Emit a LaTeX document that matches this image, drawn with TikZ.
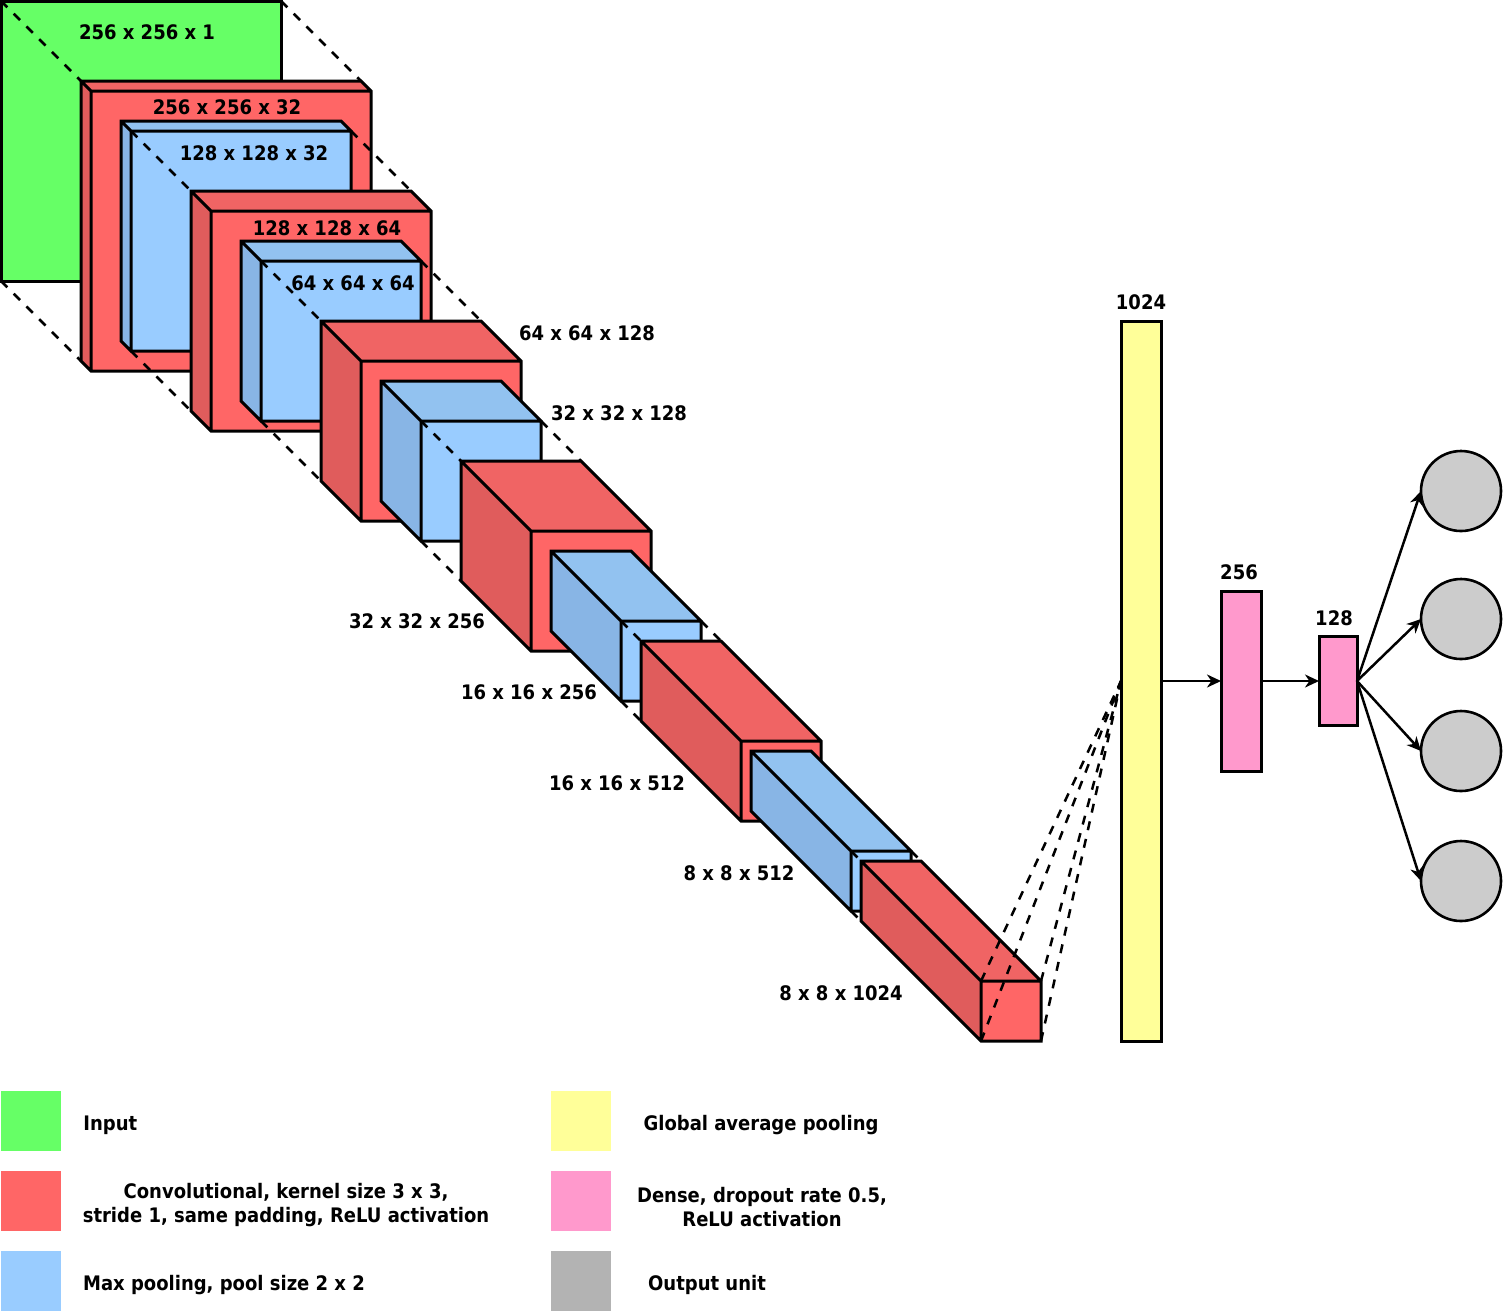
\documentclass[tikz,border=0pt]{standalone}
\usepackage{fontspec}
\setmainfont{DejaVu Sans}[FakeStretch=0.9]
\usetikzlibrary{arrows.meta}

\definecolor{inputgreen}{HTML}{66FF66}
\definecolor{convfront}{HTML}{FF6666}
\definecolor{convtop}{HTML}{F06464}
\definecolor{convside}{HTML}{E05C5C}
\definecolor{poolfront}{HTML}{99CCFF}
\definecolor{pooltop}{HTML}{92C2F0}
\definecolor{poolside}{HTML}{88B5E5}
\definecolor{gapyellow}{HTML}{FFFF99}
\definecolor{densepink}{HTML}{FF99CC}
\definecolor{outgray}{HTML}{CCCCCC}
\definecolor{keygray}{HTML}{B3B3B3}

% corner points of a cuboid: name, x, y (back top-left), size, depth
\newcommand\cubepts[5]{%
  \coordinate (#1-btl) at (#2,#3);
  \coordinate (#1-btr) at (#2+#4,#3);
  \coordinate (#1-bbl) at (#2,#3+#4);
  \coordinate (#1-ftl) at (#2+#5,#3+#5);
  \coordinate (#1-ftr) at (#2+#5+#4,#3+#5);
  \coordinate (#1-fbl) at (#2+#5,#3+#5+#4);
  \coordinate (#1-fbr) at (#2+#5+#4,#3+#5+#4);
}
% faces and edges of a cuboid: name, front, top, side colours
\newcommand\cubedraw[4]{%
  \fill[#4] (#1-btl)--(#1-ftl)--(#1-fbl)--(#1-bbl)--cycle;
  \fill[#3] (#1-btl)--(#1-btr)--(#1-ftr)--(#1-ftl)--cycle;
  \fill[#2] (#1-ftl) rectangle (#1-fbr);
  \draw[edge] (#1-btl)--(#1-btr)--(#1-ftr)--(#1-fbr)--(#1-fbl)--(#1-bbl)--cycle
    (#1-btl)--(#1-ftl)--(#1-ftr) (#1-ftl)--(#1-fbl);
}
% dashed projection lines from the front face of one block to the back face of the next
\newcommand\project[2]{%
  \draw[proj] (#1-ftl)--(#2-btl);
  \draw[proj] (#1-ftr)--(#2-btr);
  \draw[proj] (#1-fbl)--(#2-bbl);
  \draw[proj] (#1-fbr)--(#2-bbl-|#2-btr);
}

\begin{document}
\begin{tikzpicture}[x=0.5pt,y=-0.5pt,
  edge/.style={line width=1.5pt,line join=miter},
  proj/.style={line width=1.25pt,dash pattern=on 4.5pt off 4.5pt},
  lbl/.style={font=\fontsize{10}{12}\selectfont\bfseries,inner sep=0pt,text depth=0pt,align=center},
  bar/.style={draw,line width=1.5pt,inner sep=0pt,outer sep=0pt},
  unit/.style={circle,draw,line width=1.3pt,fill=outgray,minimum size=40pt,inner sep=0pt,outer sep=0pt},
  link/.style={line width=1.25pt,-{Stealth[length=7pt,width=6.5pt,inset=2.2pt]}},
  key/.style={minimum size=30pt,inner sep=0pt,anchor=north west}]

\useasboundingbox (0,0) rectangle (1504,1313);

% block geometry
\cubepts{c1}{81}{81}{280}{10}
\cubepts{p1}{121}{121}{220}{10}
\cubepts{c2}{191}{191}{220}{20}
\cubepts{p2}{241}{241}{160}{20}
\cubepts{c3}{321}{321}{160}{40}
\cubepts{p3}{381}{381}{120}{40}
\cubepts{c4}{461}{461}{120}{70}
\cubepts{p4}{551}{551}{80}{70}
\cubepts{c5}{641}{641}{80}{100}
\cubepts{p5}{751}{751}{60}{100}
\cubepts{c6}{861}{861}{60}{120}

% input image
\node[bar,fill=inputgreen,minimum size=140pt,anchor=north west] (input) at (1,1) {};
\draw[proj] (input.north west)--(c1-btl);
\draw[proj] (input.north east)--(c1-btr);
\draw[proj] (input.south west)--(c1-bbl);

% convolution / pooling stack
\cubedraw{c1}{convfront}{convtop}{convside}
\cubedraw{p1}{poolfront}{pooltop}{poolside}
\project{p1}{c2}
\cubedraw{c2}{convfront}{convtop}{convside}
\cubedraw{p2}{poolfront}{pooltop}{poolside}
\project{p2}{c3}
\cubedraw{c3}{convfront}{convtop}{convside}
\cubedraw{p3}{poolfront}{pooltop}{poolside}
\project{p3}{c4}
\cubedraw{c4}{convfront}{convtop}{convside}
\cubedraw{p4}{poolfront}{pooltop}{poolside}
\project{p4}{c5}
\cubedraw{c5}{convfront}{convtop}{convside}
\cubedraw{p5}{poolfront}{pooltop}{poolside}
\project{p5}{c6}
\cubedraw{c6}{convfront}{convtop}{convside}

% dense part
\node[bar,fill=gapyellow,minimum width=20pt,minimum height=360pt] (gap) at (1141,681) {};
\node[bar,fill=densepink,minimum width=20pt,minimum height=90pt] (d256) at (1241,681) {};
\node[bar,fill=densepink,minimum width=19pt,minimum height=44.5pt] (d128) at (1338,681) {};
\node[unit] (o1) at (1461,491) {};
\node[unit] (o2) at (1461,619) {};
\node[unit] (o3) at (1461,751) {};
\node[unit] (o4) at (1461,881) {};

\draw[proj] (c6-ftl)--(gap.west);
\draw[proj] (c6-ftr)--(gap.west);
\draw[proj] (c6-fbl)--(gap.west);
\draw[proj] (c6-fbr)--(gap.west);

\draw[link] (gap.east)--(d256.west);
\draw[link] (d256.east)--(d128.west);
\foreach \o in {o1,o2,o3,o4}
  \draw[link] (d128.east)--(\o.west);

% shape labels
\node[lbl] (l1) at (147,32) {256 x 256 x 1};
\node[lbl] (l2) at (227,107) {256 x 256 x 32};
\node[lbl] (l3) at (254,153) {128 x 128 x 32};
\node[lbl] (l4) at (327,228) {128 x 128 x 64};
\node[lbl] (l5) at (353,283) {64 x 64 x 64};
\node[lbl] (l6) at (587,333) {64 x 64 x 128};
\node[lbl] (l7) at (619,413) {32 x 32 x 128};
\node[lbl] (l8) at (417,621) {32 x 32 x 256};
\node[lbl] (l9) at (529,692) {16 x 16 x 256};
\node[lbl] (l10) at (617,783) {16 x 16 x 512};
\node[lbl] (l11) at (739,873) {8 x 8 x 512};
\node[lbl] (l12) at (841,993) {8 x 8 x 1024};
\node[lbl] (l13) at (1141,302) {1024};
\node[lbl] (l14) at (1239,572) {256};
\node[lbl] (l15) at (1334,618) {128};

% legend
\node[key,fill=inputgreen] (k1) at (1,1091) {};
\node[key,fill=convfront] (k2) at (1,1171) {};
\node[key,fill=poolfront] (k3) at (1,1251) {};
\node[key,fill=gapyellow] (k4) at (551,1091) {};
\node[key,fill=densepink] (k5) at (551,1171) {};
\node[key,fill=keygray] (k6) at (551,1251) {};
\node[lbl,anchor=west] (t1) at (83,1123) {Input};
\node[lbl] (t2) at (286,1203) {Convolutional, kernel size 3 x 3,\\stride 1, same padding, ReLU activation};
\node[lbl] (t3) at (224,1283) {Max pooling, pool size 2 x 2};
\node[lbl] (t4) at (761,1123) {Global average pooling};
\node[lbl] (t5) at (762,1207) {Dense, dropout rate 0.5,\\ReLU activation};
\node[lbl] (t6) at (707,1283) {Output unit};
\end{tikzpicture}
\end{document}
